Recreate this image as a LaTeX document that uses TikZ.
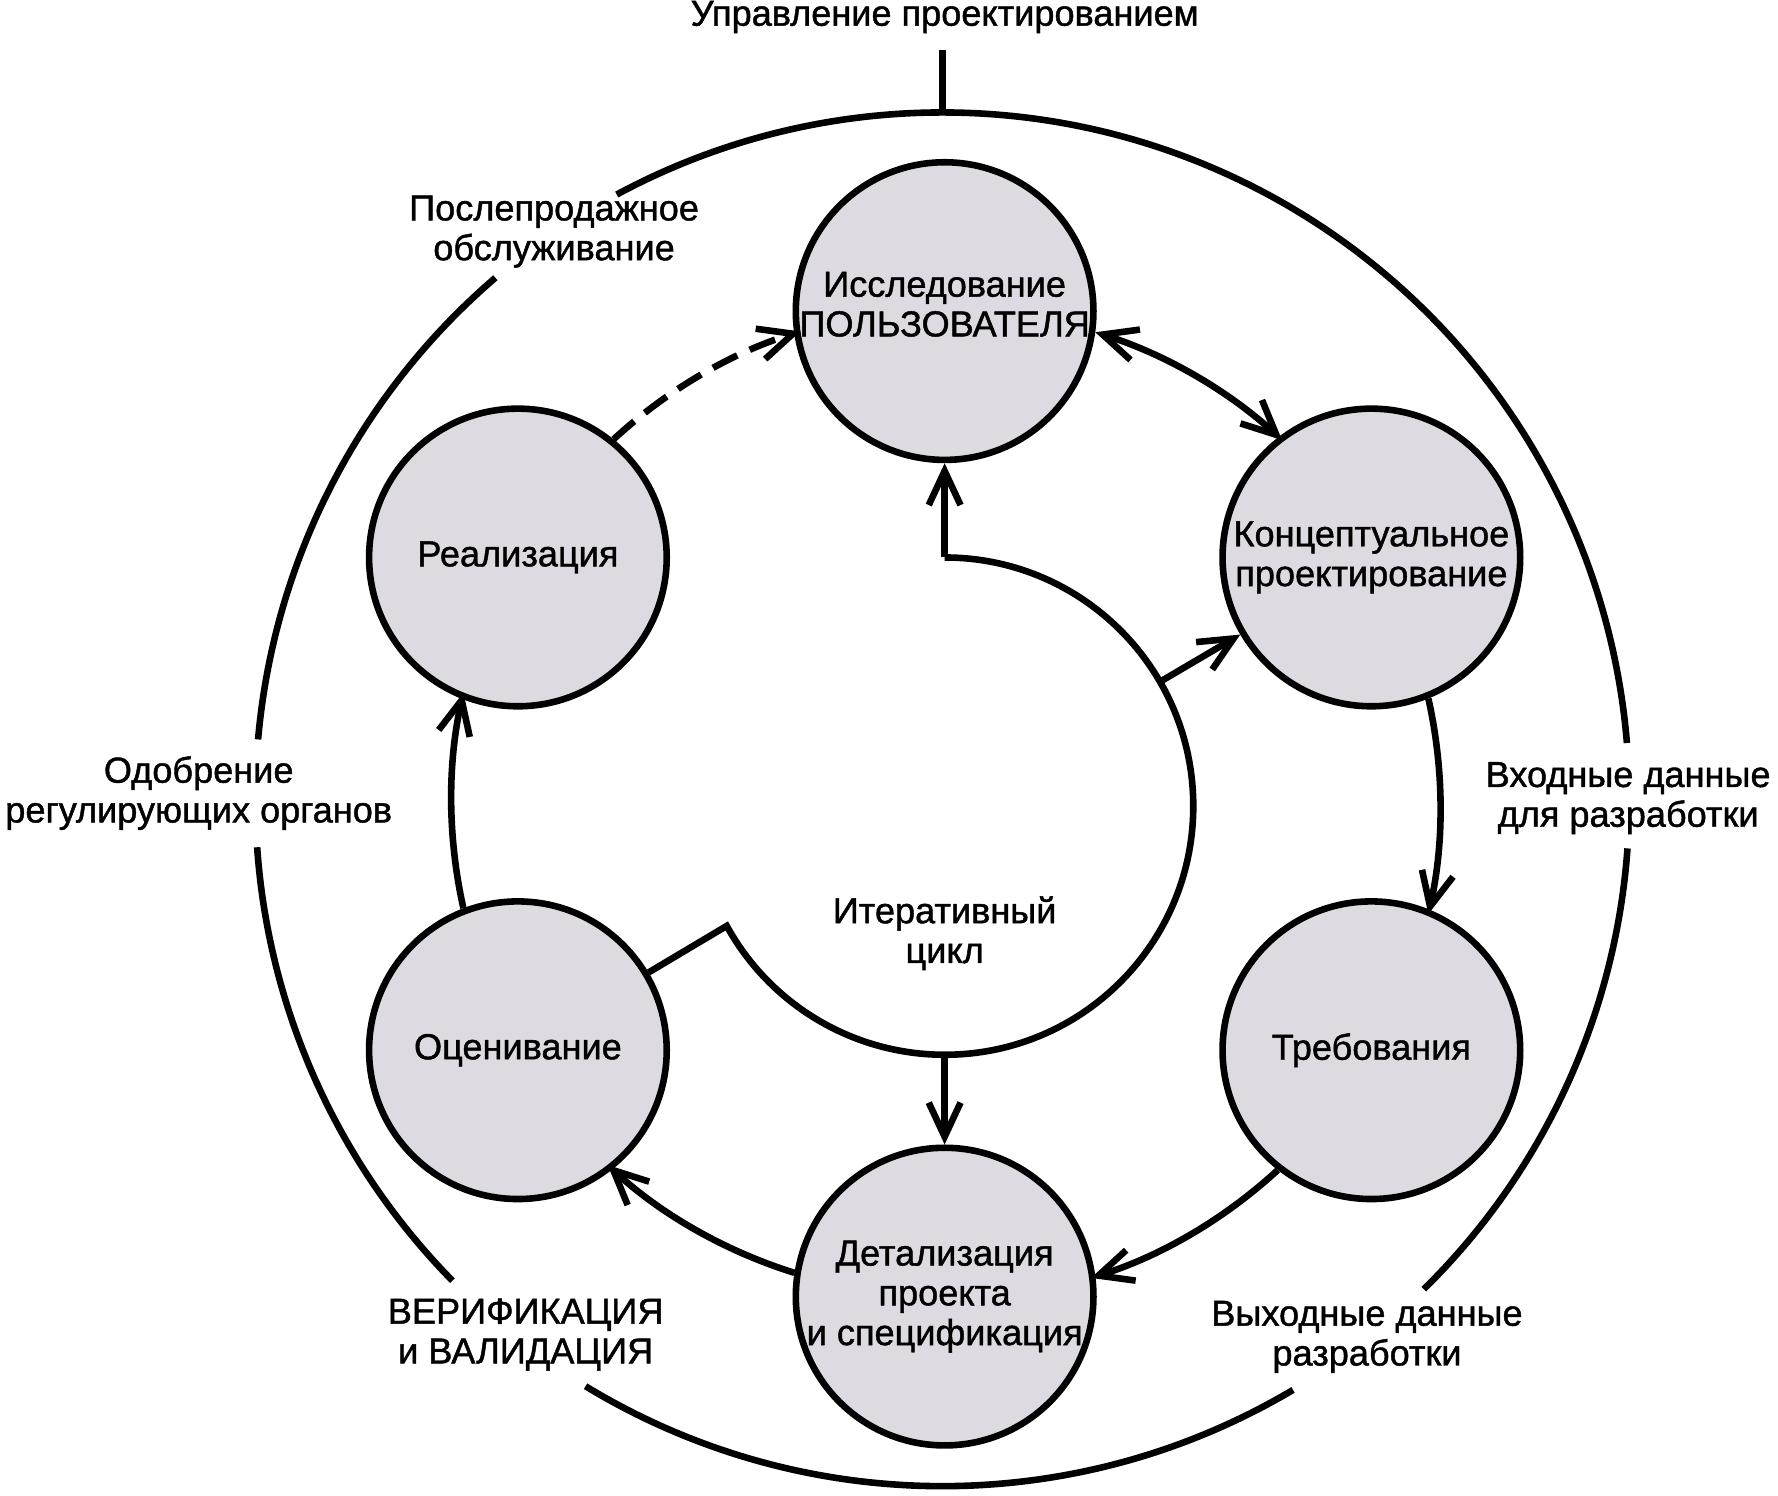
\documentclass[tikz,border=0pt]{standalone}
\usepackage{fontspec}
\setmainfont{Liberation Sans}[FakeBold=1.2]
\usetikzlibrary{arrows.meta,calc}
\definecolor{nodefill}{RGB}{221,219,225}
\newcommand\lbfont{\fontsize{9.05pt}{9.96pt}\selectfont}
\tikzset{
  ln/.style={line width=1.65pt},
  tip/.tip={Straight Barb[length=0.3cm,width=0.28cm]},
  conn/.style={ln,-tip},
  biconn/.style={ln,tip-tip},
  stage/.style={circle,draw,ln,fill=nodefill,minimum size=2.62cm,inner sep=0pt},
  lbl/.style={align=center,font=\lbfont,inner sep=0pt},
}
\begin{document}
\begin{tikzpicture}[x=0.01cm,y=0.01cm]
\useasboundingbox (0,0) rectangle (1566,1317);
\coordinate (C) at (832,609);
% stages
\node[stage,label={[lbl,yshift=0.06cm]center:Исследование\\ПОЛЬЗОВАТЕЛЯ}] (top) at ($(C)+(90:434)$) {};
\node[stage,label={[lbl]center:Концептуальное\\проектирование}] (conc) at ($(C)+(30:434)$) {};
\node[stage,label={[lbl]center:Требования}] (treb) at ($(C)+(-30:434)$) {};
\node[stage,label={[lbl]center:Детализация\\проекта\\и спецификация}] (det) at ($(C)+(-90:434)$) {};
\node[stage,label={[lbl]center:Оценивание}] (otsen) at ($(C)+(210:434)$) {};
\node[stage,label={[lbl]center:Реализация}] (real) at ($(C)+(150:434)$) {};
% cycle connectors
\draw[conn,dashed,dash pattern=on 0.24cm off 0.12cm] (real.51.32) arc[start angle=132.64,end angle=107.36,radius=434];
\draw[biconn] (top.-8.68) arc[start angle=72.64,end angle=47.36,radius=434];
\draw[conn] (conc.-68.68) arc[start angle=12.64,end angle=-12.64,radius=434];
\draw[conn] (treb.-128.68) arc[start angle=-47.36,end angle=-72.64,radius=434];
\draw[conn] (det.171.32) arc[start angle=-107.36,end angle=-132.64,radius=434];
\draw[conn] (otsen.111.32) arc[start angle=192.64,end angle=167.36,radius=434];
% iterative cycle
\coordinate (IC) at (832,607);
\coordinate (itop) at ($(IC)+(90:219)$);
\coordinate (iright) at ($(IC)+(30:219)$);
\coordinate (ibot) at ($(IC)+(-90:219)$);
\draw[ln] (itop) arc[start angle=90,end angle=-151.2,radius=219] coordinate (ileft) -- (otsen);
\draw[conn] (itop) -- (top);
\draw[conn] (iright) -- (conc);
\draw[conn] (ibot) -- (det);
\node[lbl] (iter) at (832,495) {Итеративный\\цикл};
% outer ring
\coordinate (O) at (830,613);
\draw[ln] ($(O)+(4.7:605)$) arc[start angle=4.7,end angle=118.3,radius=605];
\draw[ln] ($(O)+(130.6:605)$) arc[start angle=130.6,end angle=175,radius=605];
\draw[ln] ($(O)+(184:605)$) arc[start angle=184,end angle=224.5,radius=605];
\draw[ln] ($(O)+(238.7:605)$) arc[start angle=238.7,end angle=300.7,radius=605];
\draw[ln] ($(O)+(314.5:605)$) arc[start angle=314.5,end angle=355.9,radius=605];
\coordinate (otop) at ($(O)+(90:605)$);
\coordinate (mtop) at (830,1273);
\draw[ln] (otop) -- (mtop);
% ring labels
\node[lbl] (mgmt) at (832,1302) {Управление проектированием};
\node[lbl] (post) at (488,1113) {Послепродажное\\обслуживание};
\node[lbl] (odob) at (175,618.5) {Одобрение\\регулирующих органов};
\node[lbl] (verif) at (463,141.5) {ВЕРИФИКАЦИЯ\\и ВАЛИДАЦИЯ};
\node[lbl] (vyh) at (1204,139.5) {Выходные данные\\разработки};
\node[lbl] (vh) at (1434,614) {Входные данные\\для разработки};
\end{tikzpicture}
\end{document}
